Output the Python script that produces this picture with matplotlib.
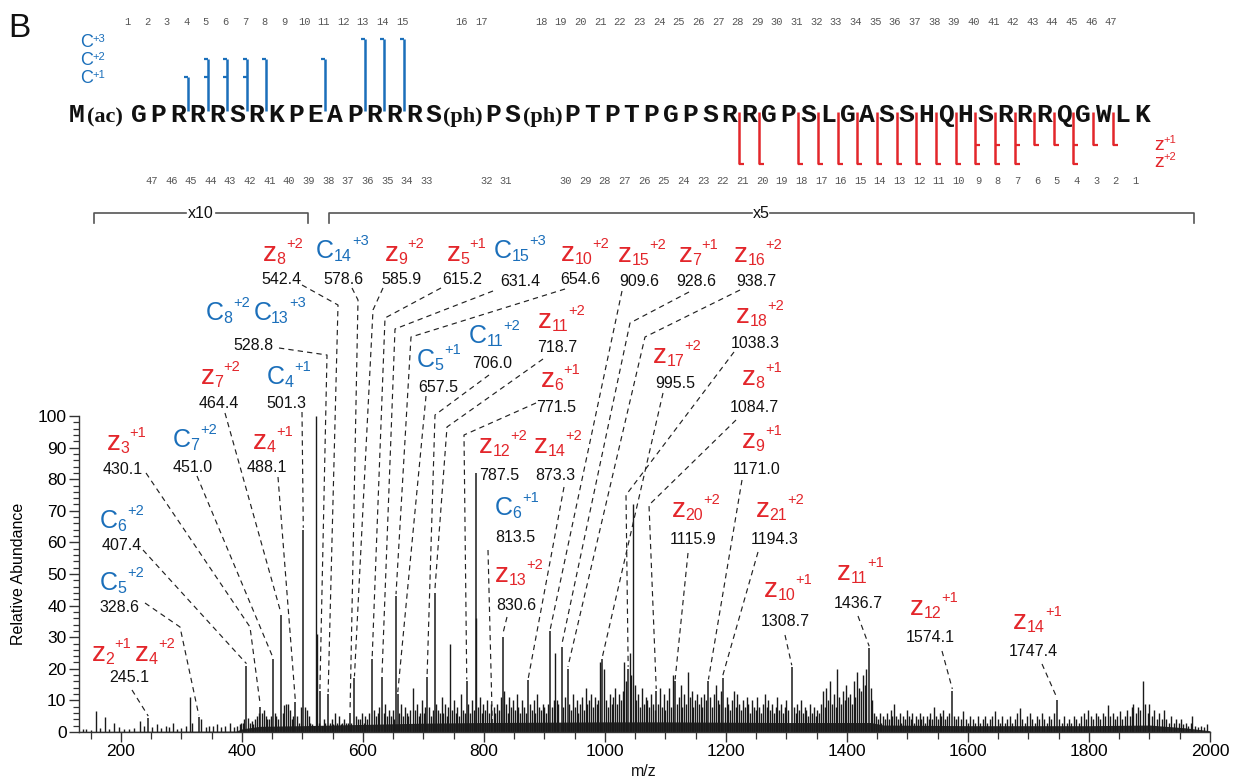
import matplotlib
matplotlib.use('Agg')
import matplotlib.pyplot as plt
from matplotlib.ticker import MultipleLocator

plt.rcParams['font.family'] = ['Liberation Sans', 'DejaVu Sans']

# ---------------- data ----------------
residues = ['M(ac)', 'G', 'P', 'R', 'R', 'R', 'S', 'R', 'K', 'P', 'E', 'A', 'P', 'R', 'R', 'R',
            'S(ph)', 'P', 'S(ph)', 'P', 'T', 'P', 'T', 'P', 'G', 'P', 'S', 'R', 'R', 'G', 'P', 'S',
            'L', 'G', 'A', 'S', 'S', 'H', 'Q', 'H', 'S', 'R', 'R', 'R', 'Q', 'G', 'W', 'L', 'K']
top_numbers = list(range(1, 48))
bottom_numbers = list(range(1, 48))
c_ions_1 = [4, 5, 6, 7]
c_ions_2 = [5, 6, 7, 8, 11]
c_ions_3 = [13, 14, 15]
z_ions_1 = [2, 3, 4, 5, 6, 7, 8, 9]
z_ions_2 = [4, 7, 8, 9, 10, 11, 12, 13, 14, 15, 16, 17, 18, 20, 21]

ion_mz = [245.1, 328.6, 407.4, 430.1, 451.0, 464.4, 488.1, 501.3, 528.8, 542.4, 578.6, 585.9,
          615.2, 631.4, 654.6, 657.5, 706.0, 718.7, 771.5, 787.5, 813.5, 830.6, 873.3, 909.6,
          928.6, 938.7, 995.5, 1038.3, 1084.7, 1115.9, 1171.0, 1194.3, 1308.7, 1436.7, 1574.1, 1747.4]
ion_height = [4.4, 4.7, 21, 8, 23, 37, 9.5, 64, 13, 12, 6, 17, 23, 17.5, 43, 12, 17.5, 44, 16, 82,
              4, 30, 16.5, 32, 27, 20, 23, 20, 13, 16, 16, 17, 20.5, 26.5, 13, 10]
ion_names = ['z2+1 z4+2', 'C5+2', 'C6+2', 'z3+1', 'C7+2', 'z7+2', 'z4+1', 'C4+1', 'C8+2 C13+3',
             'z8+2', 'C14+3', 'z9+2', 'z5+1', 'C15+3', 'z10+2', 'C5+1', 'C11+2', 'z11+2', 'z6+1',
             'z12+2', 'C6+1', 'z13+2', 'z14+2', 'z15+2', 'z7+1', 'z16+2', 'z17+2', 'z18+2', 'z8+1',
             'z20+2', 'z9+1', 'z21+2', 'z10+1', 'z11+1', 'z12+1', 'z14+1']

other_mz = [137, 142, 150, 158, 165, 173, 180, 188, 197, 205, 214, 222, 231, 238, 252, 259, 266, 274,
            280, 286, 293, 300, 307, 314, 318, 333, 340, 346, 352, 358, 366, 372, 380, 386, 391, 396,
            398, 401, 404, 410, 413, 416, 419, 422, 425, 428, 433, 436, 439, 442, 445, 448, 454, 457,
            460, 467, 470, 473, 476, 479, 482, 485, 491, 494, 497, 504, 507, 510, 513, 516, 519, 523,
            524.6, 527, 532, 535, 538, 545, 548, 551, 554, 557, 560, 563, 566, 569, 572, 575, 581, 589,
            592, 595, 598, 601, 604, 607, 610, 618, 621, 624, 627, 634, 637, 640, 643, 646, 649, 651,
            660, 663, 666, 669, 672, 675, 678, 683, 686, 689, 692, 695, 698, 701, 703, 709, 712, 715,
            721, 724, 727, 730, 733, 736, 739, 741, 744, 747, 750, 753, 756, 759, 762, 765, 768, 774,
            777, 780, 783, 786.6, 790, 793, 796, 799, 802, 805, 808, 811, 816, 819, 822, 825, 828, 833,
            836, 839, 842, 845, 848, 851, 854, 857, 860, 863, 866, 869, 876, 879, 882, 885, 888, 891,
            894, 897, 900, 903, 906, 912, 915, 917.5, 920, 923, 931, 934, 941, 944, 947, 950, 953, 956,
            959, 962, 965, 968, 971, 974, 977, 980, 983, 986, 989, 992, 999, 1002, 1005, 1008, 1011,
            1014, 1017, 1020, 1023, 1026, 1029, 1032, 1035, 1041, 1043.5, 1046, 1049, 1052, 1055, 1058,
            1061, 1064, 1067, 1070, 1073, 1076, 1079, 1082, 1088, 1091, 1094, 1097, 1100, 1103, 1106,
            1109, 1112, 1119, 1122, 1125, 1128, 1131, 1134, 1137, 1140, 1143, 1146, 1149, 1152, 1155,
            1158, 1161, 1164, 1167, 1174, 1177, 1180, 1183, 1186, 1189, 1192, 1198, 1201, 1204, 1207,
            1210, 1213, 1216, 1219, 1222, 1225, 1228, 1231, 1234, 1237, 1240, 1243, 1246, 1249, 1252,
            1255, 1258, 1261, 1264, 1267, 1270, 1273, 1276, 1279, 1282, 1285, 1288, 1291, 1294, 1297,
            1300, 1303, 1312, 1315, 1318, 1321, 1324, 1327, 1330, 1333, 1336, 1339, 1342, 1345, 1348,
            1351, 1354, 1357, 1360, 1363, 1366, 1369, 1372, 1375, 1378, 1381, 1384, 1387, 1390, 1393,
            1396, 1399, 1402, 1405, 1408, 1411, 1414, 1417, 1420, 1423, 1426, 1429, 1432, 1439, 1442,
            1445, 1448, 1451, 1454, 1457, 1460, 1463, 1466, 1469, 1472, 1475, 1478, 1481, 1484, 1487,
            1490, 1493, 1496, 1499, 1502, 1505, 1508, 1511, 1514, 1517, 1520, 1523, 1526, 1529, 1532,
            1535, 1538, 1541, 1544, 1547, 1550, 1553, 1556, 1559, 1562, 1565, 1568, 1577, 1580, 1584,
            1588, 1592, 1596, 1600, 1604, 1608, 1612, 1616, 1620, 1624, 1628, 1632, 1636, 1640, 1645,
            1649, 1653, 1657, 1661, 1665, 1669, 1673, 1677, 1681, 1686, 1690, 1694, 1698, 1702, 1706,
            1710, 1714, 1718, 1722, 1726, 1730, 1734, 1738, 1742, 1751, 1755, 1759, 1763, 1767, 1771,
            1775, 1779, 1783, 1787, 1791, 1795, 1799, 1803, 1807, 1811, 1815, 1819, 1823, 1827, 1831,
            1835, 1839, 1843, 1847, 1851, 1855, 1859, 1863, 1867, 1871, 1873, 1877, 1881, 1885, 1889,
            1893, 1897, 1900, 1904, 1908, 1912, 1916, 1920, 1924, 1928, 1932, 1936, 1940, 1944, 1948,
            1952, 1956, 1960, 1964, 1968, 1970, 1975, 1980, 1985, 1990, 1995]
other_h = [0.8, 1.0, 0.7, 6.8, 1.2, 4.8, 0.8, 3.0, 1.5, 1.0, 0.8, 1.2, 3.5, 2.0, 1.5, 2.5, 1.2, 2.0,
           1.5, 3.0, 1.0, 1.2, 2.0, 11, 3.0, 4.0, 1.5, 2.0, 2.0, 2.5, 1.5, 2.0, 3.0, 1.5, 2.0, 2.5,
           3, 3, 4, 4.5, 3, 3.5, 2.5, 4, 5, 6, 6, 7, 5, 4, 4, 5, 6, 5,
           4, 6, 8.5, 9, 9, 7, 4, 5, 5, 3, 8, 8, 7, 5, 3, 2.5, 2, 100,
           31, 3, 2, 4, 3, 3, 4, 2.5, 6, 3, 5, 2.5, 3, 4, 3, 3, 3, 5,
           4, 4, 6, 3, 5, 4, 6, 7, 5, 6, 8, 6, 9, 5, 7, 5, 7, 4,
           6, 9, 5, 8, 6, 5, 7, 14, 7, 9, 5, 6, 10, 6, 8, 8, 5, 7,
           9, 7, 6, 11, 6, 9, 5, 8, 28, 7, 10, 6, 8, 5, 12, 7, 6, 9,
           6, 10, 7, 36, 8, 11, 6, 9, 7, 10, 6, 9, 8, 6, 9, 7, 11, 13,
           9, 6, 11, 8, 10, 7, 12, 8, 6, 10, 8, 6, 9, 7, 10, 6, 12, 8,
           7, 9, 8, 6, 9, 8, 10, 25, 10, 9, 8, 11, 9, 7, 12, 8, 10, 6,
           9, 11, 7, 14, 9, 10, 12, 8, 11, 9, 10, 22, 20, 10, 8, 12, 9,
           11, 14, 9, 12, 10, 13, 22, 16, 25, 18, 72, 15, 10, 12, 8,
           14, 9, 11, 10, 8, 12, 9, 7, 9, 14, 8, 12, 7, 10, 14,
           8, 18, 9, 11, 15, 8, 12, 9, 19, 11, 13, 8, 10, 12, 9,
           11, 8, 12, 10, 11, 8, 12, 15, 10, 9, 13, 8, 11, 9, 7,
           10, 13, 8, 12, 9, 7, 10, 8, 11, 9, 6, 10, 8, 7, 11,
           8, 6, 9, 12, 8, 10, 7, 9, 6, 8, 11, 7, 9, 6, 8,
           10, 7, 8, 6, 9, 7, 10, 6, 8, 7, 5, 9, 6, 8, 5,
           7, 6, 9, 13, 8, 14, 10, 16, 9, 12, 8, 20, 11, 9, 13,
           10, 15, 11, 12, 9, 16, 11, 19, 14, 13, 18, 15, 20, 14, 10,
           6, 5, 4, 6, 3, 5, 4, 6, 4, 7, 5, 9, 5, 4, 6,
           3, 5, 4, 7, 5, 4, 6, 3, 5, 4, 6, 4, 5, 3, 5,
           4, 6, 4, 8, 5, 4, 6, 5, 7, 4, 5, 6, 5, 4, 5,
           4, 6.5, 4, 3, 5, 4, 3, 5, 3, 4, 5, 3, 4, 5, 6.5,
           4, 3, 5, 3, 4, 5, 3, 4, 6, 7.5, 4, 3, 5, 6, 4,
           3, 5, 4, 6, 4, 3, 5, 4, 6, 4, 3, 5, 3, 4, 3,
           5, 4, 3, 5, 6, 4, 7, 5, 4, 6, 5, 4, 6, 5, 8.5,
           5, 6, 4, 5, 6.5, 4, 5, 7, 5, 8, 9, 6, 8, 7, 16,
           9, 6, 9, 5, 7, 4, 6, 4, 7, 4, 3, 5, 3, 4, 3,
           4, 2.5, 3, 2, 3, 5, 2, 1.5, 2, 1.5, 2.5]

floor_mz = [130, 390, 400, 430, 500, 600, 700, 800, 1000, 1100, 1300, 1440, 1460, 1600, 1800, 1900, 1960, 2000]
floor_h = [0.2, 0.3, 1.0, 1.8, 2.0, 2.4, 2.8, 3.0, 3.2, 3.2, 3.0, 3.0, 2.2, 2.0, 2.0, 2.2, 1.3, 0.4]

# ---------------- layout (pixel positions) ----------------
label_value_xy = [(129, 677), (119, 608), (122, 545), (123, 469), (193, 467), (219, 404), (267, 468),
                  (286, 404), (253, 346), (281, 279), (343, 279), (401, 279), (462, 279), (520, 281),
                  (580, 280), (438, 387), (492, 364), (557, 347), (556, 408), (499, 475), (515, 537),
                  (516, 605), (555, 475), (639, 282), (696, 282), (756, 282), (675, 384), (755, 343),
                  (754, 407), (693, 540), (757, 469), (775, 540), (785, 622), (858, 603), (930, 638),
                  (1033, 652)]
label_ion_xy = [(92, 661), (100, 590), (100, 528), (107, 450), (173, 447), (201, 384), (253, 449),
                (267, 384), (206, 320), (263, 261), (316, 258), (385, 261), (447, 261), (494, 258),
                (561, 261), (417, 367), (469, 343), (538, 328), (541, 387), (479, 453), (495, 515),
                (495, 582), (534, 453), (618, 262), (679, 262), (734, 262), (653, 363), (736, 323),
                (742, 385), (672, 517), (742, 448), (756, 517), (764, 597), (837, 580), (910, 615),
                (1013, 629)]
label_lead_start = [(132, 690), (145, 603), (143, 550), (146, 473), (197, 476), (225, 413), (278, 477),
                    (302, 412), (279, 348), (302, 285), (352, 288), (383, 288), (441, 288), (493, 291),
                    (565, 289), (426, 396), (489, 375), (543, 359), (536, 403), None, (488, 550),
                    (507, 617), (564, 487), (622, 291), (689, 292), (740, 290), (663, 393), (734, 352),
                    (736, 420), (688, 553), (742, 480), (758, 552), (785, 635), (858, 616), (942, 651),
                    (1042, 664)]
label_knee = [None, (180, 627), None, (250, 627), None, None, None, None, (327, 355), (338, 305),
              (358, 300), (373, 310), (385, 318), (395, 329), (411, 337), None, (435, 415), (447, 427),
              (464, 435), None, None, None, None, None, (630, 323), (645, 337), None, (626, 495),
              (649, 505), None, None, None, None, None, None, None]

W, H = 1235, 783
BLUE = '#1b6fba'
RED = '#e3262b'
NARROW = ['Liberation Sans Narrow', 'Liberation Sans', 'DejaVu Sans']

fig = plt.figure(figsize=(W / 100, H / 100), dpi=100)
ax_left, ax_right, ax_bot, ax_top = 79, 1210, 732, 416
ax = fig.add_axes([ax_left / W, (H - ax_bot) / H, (ax_right - ax_left) / W, (ax_bot - ax_top) / H])
ax.set_xlim(130.6, 2000)
ax.set_ylim(0, 100)

ax.fill_between(floor_mz, 0, floor_h, color='#2a2a2a', linewidth=0)
ax.vlines(other_mz, 0, other_h, colors='#1a1a1a', linewidth=1.0)
ax.vlines(ion_mz, 0, ion_height, colors='#1a1a1a', linewidth=1.1)

for s in ['top', 'right']:
    ax.spines[s].set_visible(False)
for s in ['left', 'bottom']:
    ax.spines[s].set_color('#333333')
    ax.spines[s].set_linewidth(1.0)
ax.xaxis.set_major_locator(MultipleLocator(200))
ax.xaxis.set_minor_locator(MultipleLocator(50))
ax.yaxis.set_major_locator(MultipleLocator(10))
ax.yaxis.set_minor_locator(MultipleLocator(2))
ax.tick_params(which='major', length=7, width=1, color='#333333', labelsize=12.5, pad=2)
ax.tick_params(which='minor', length=5, width=0.9, color='#333333')
ax.tick_params(axis='y', which='minor', length=4)
ax.set_ylabel('Relative Abundance', fontsize=11.5, labelpad=8)

# overlay in pixel coordinates
ov = fig.add_axes([0, 0, 1, 1])
ov.set_xlim(0, W)
ov.set_ylim(H, 0)
ov.axis('off')
ov.patch.set_alpha(0)

ov.text(644, 771, 'm/z', fontsize=11.5, color='#111111', ha='center', va='center')

renderer = fig.canvas.get_renderer()


def right_edge(t):
    bb = t.get_window_extent(renderer)
    return ov.transData.inverted().transform((bb.x1, bb.y0))[0]


def draw_ion(x, base, name):
    for part in name.split():
        letter = part[0]
        sub, sup = part[1:].split('+')
        color = RED if letter == 'z' else BLUE
        fs = 20 if letter == 'z' else 18
        t = ov.text(x, base, letter, fontsize=fs, color=color, family=NARROW, ha='left', va='baseline')
        x1 = right_edge(t)
        t2 = ov.text(x1 - 0.5, base + 3, sub, fontsize=11.5, color=color, ha='left', va='baseline')
        x2 = right_edge(t2)
        t3 = ov.text(x2 + 0.5, base - 13, '+' + sup, fontsize=10.5, color=color, ha='left', va='baseline')
        x = right_edge(t3) + 4


def peak_px(mz, h):
    dx, dy = ax.transData.transform((mz, h))
    return dx, H - dy


for i, mz in enumerate(ion_mz):
    cx, cy = label_value_xy[i]
    ov.text(cx, cy, f'{mz:.1f}', fontsize=11.5, color='#111111', ha='center', va='center')
    ix, ib = label_ion_xy[i]
    draw_ion(ix, ib, ion_names[i])
    st = label_lead_start[i]
    if st is None:
        continue
    px, py = peak_px(mz, ion_height[i])
    xs, ys = [st[0]], [st[1]]
    if label_knee[i] is not None:
        xs.append(label_knee[i][0])
        ys.append(label_knee[i][1])
    xs.append(px)
    ys.append(py - 2)
    ov.plot(xs, ys, color='#222222', lw=0.85, ls=(0, (4.5, 3.5)))


# magnification brackets
def mag_bracket(x0, x1, xt, label):
    y, yd = 213, 223
    half = 9 if len(label) == 2 else 15
    ov.plot([x0, x0, xt - half], [yd, y, y], color='#555555', lw=1.2)
    ov.plot([xt + half, x1, x1], [y, y, yd], color='#555555', lw=1.2)
    ov.text(xt, y + 1, label, fontsize=11.5, ha='center', va='center', color='#111111')


mag_bracket(94, 307.5, 201, 'x10')
mag_bracket(329, 1194, 761, 'x5')

# ---------------- sequence ----------------
centers = []
extras = []
c = 77.0
for k, res in enumerate(residues):
    if k == 1:
        c = 138.7
    elif k > 1:
        c = centers[-1] + 19.65 + extras[-1]
    centers.append(c)
    extras.append(40.0 if len(res) > 1 and k > 0 else 0.0)
    ov.text(c, 122, res[0], fontsize=19, family='Liberation Mono', weight='bold',
            ha='center', va='baseline', color='#111111')
    if len(res) > 1:
        ov.text(c + 10, 122, res[1:], fontsize=16, family='Liberation Serif', weight='bold',
                ha='left', va='baseline', color='#111111')


def site_x(k):
    return centers[k] - 9.8


for k in top_numbers:
    x = centers[k] + extras[k] - 11.5
    ov.text(x, 22, str(k), fontsize=7.5, family='Liberation Mono', color='#555555',
            ha='center', va='center')
for j in bottom_numbers:
    x = site_x(49 - j) + 3
    ov.text(x, 181, str(j), fontsize=7.5, family='Liberation Mono', color='#555555',
            ha='center', va='center')

c_levels = {1: 77, 2: 59, 3: 39}
c_sets = {1: c_ions_1, 2: c_ions_2, 3: c_ions_3}
c_top = {}
for lvl, ks in c_sets.items():
    for k in ks:
        c_top[k] = min(c_top.get(k, 999), c_levels[lvl])
for k, ytop in c_top.items():
    x = site_x(k)
    ov.plot([x, x], [ytop, 111], color=BLUE, lw=1.8, solid_capstyle='butt')
for lvl, ks in c_sets.items():
    for k in ks:
        x = site_x(k)
        ov.plot([x - 4, x], [c_levels[lvl], c_levels[lvl]], color=BLUE, lw=1.6, solid_capstyle='butt')

z_levels = {1: 145, 2: 164}
z_sets = {1: z_ions_1, 2: z_ions_2}
z_bot = {}
for lvl, js in z_sets.items():
    for j in js:
        z_bot[j] = max(z_bot.get(j, 0), z_levels[lvl])
for j, yb in z_bot.items():
    x = site_x(49 - j)
    ov.plot([x, x], [112, yb], color=RED, lw=1.8, solid_capstyle='butt')
for lvl, js in z_sets.items():
    for j in js:
        x = site_x(49 - j)
        ov.plot([x, x + 5], [z_levels[lvl], z_levels[lvl]], color=RED, lw=1.6, solid_capstyle='butt')

# charge legends
for lvl, base in [(3, 47), (2, 65), (1, 83)]:
    t = ov.text(80, base, 'C', fontsize=13, family=NARROW, color=BLUE, ha='left', va='baseline')
    ov.text(right_edge(t), base - 5, f'+{lvl}', fontsize=8, color=BLUE, ha='left', va='baseline')
for lvl, base in [(1, 150), (2, 167)]:
    t = ov.text(1154, base, 'z', fontsize=14, family=NARROW, color=RED, ha='left', va='baseline')
    ov.text(right_edge(t), base - 7, f'+{lvl}', fontsize=8, color=RED, ha='left', va='baseline')

ov.text(8, 37, 'B', fontsize=24, color='#111111', ha='left', va='baseline')

fig.savefig('out.png', dpi=100)
